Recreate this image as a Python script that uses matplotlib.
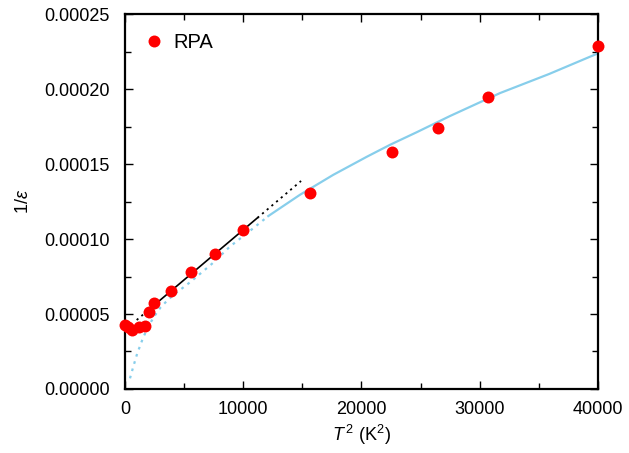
import numpy as np
import matplotlib
matplotlib.use('Agg')
import matplotlib.pyplot as plt
from matplotlib.ticker import MultipleLocator, FormatStrFormatter

plt.rcParams['font.family'] = ['Liberation Sans', 'DejaVu Sans']
plt.rcParams['mathtext.fontset'] = 'custom'
plt.rcParams['mathtext.it'] = 'Liberation Sans:italic'
plt.rcParams['mathtext.rm'] = 'Liberation Sans'

# RPA points, T^2 (K^2) vs 1/eps
t2_rpa = [0, 250, 590, 1160, 1660, 2000, 2480, 3920, 5610, 7640, 10000,
          15645, 22555, 26445, 30673, 40000]
inv_eps_rpa = [4.3e-5, 4.15e-5, 3.95e-5, 4.1e-5, 4.2e-5, 5.15e-5, 5.71e-5,
               6.53e-5, 7.82e-5, 9.0e-5, 1.06e-4,
               1.305e-4, 1.582e-4, 1.738e-4, 1.949e-4, 2.287e-4]

# linear fit (black)
lin_dot1_x = [990, 2200]
lin_dot1_y = [4.6e-5, 5.41e-5]
lin_solid_x = [2200, 11200]
lin_solid_y = [5.41e-5, 1.141e-4]
lin_dot2_x = [11200, 14890]
lin_dot2_y = [1.141e-4, 1.387e-4]

# sqrt-like fit (blue)
sq_dot_x = [423, 702, 1040, 1463, 1886, 2453, 3019, 3578, 4144, 4846, 5556,
            7358, 8880, 10500, 12120]
sq_dot_y = [7.1e-6, 1.49e-5, 2.38e-5, 3.27e-5, 4.05e-5, 4.82e-5, 5.45e-5,
            5.9e-5, 6.3e-5, 6.72e-5, 7.15e-5, 8.35e-5, 9.5e-5, 1.05e-4, 1.153e-4]
sq_solid_x = [12120, 14800, 17616, 20440, 22411, 24670, 27484, 31714, 35858, 40000]
sq_solid_y = [1.153e-4, 1.295e-4, 1.428e-4, 1.548e-4, 1.628e-4, 1.712e-4,
              1.82e-4, 1.973e-4, 2.10e-4, 2.238e-4]

fig = plt.figure(figsize=(6.29, 4.53), dpi=100)
ax = fig.add_axes([0.1987, 0.1413, 0.752, 0.8277])

blue = '#87ceeb'
dots = (0, (1.2, 2.2))
ax.plot(sq_dot_x, sq_dot_y, color=blue, lw=1.6, linestyle=dots)
ax.plot(sq_solid_x, sq_solid_y, color=blue, lw=1.6)
ax.plot(lin_dot1_x, lin_dot1_y, color='black', lw=1.3, linestyle=dots)
ax.plot(lin_solid_x, lin_solid_y, color='black', lw=1.2)
ax.plot(lin_dot2_x, lin_dot2_y, color='black', lw=1.3, linestyle=dots)
ax.plot(t2_rpa, inv_eps_rpa, 'o', color='red', ms=8.6, mec='none',
        label='RPA', clip_on=False, zorder=5)

ax.set_xlim(0, 40000)
ax.set_ylim(0, 0.00025)
ax.xaxis.set_major_locator(MultipleLocator(10000))
ax.xaxis.set_minor_locator(MultipleLocator(5000))
ax.yaxis.set_major_locator(MultipleLocator(0.00005))
ax.yaxis.set_minor_locator(MultipleLocator(0.000025))
ax.yaxis.set_major_formatter(FormatStrFormatter('%.5f'))
ax.tick_params(which='both', direction='in', top=True, right=True,
               labelsize=13, width=1)
ax.tick_params(which='major', length=6)
ax.tick_params(axis='y', which='major', pad=11)
ax.tick_params(axis='x', which='major', pad=9)
ax.tick_params(which='minor', length=4)
for s in ax.spines.values():
    s.set_linewidth(1.6)

ax.set_xlabel(r'$T^{\,2}$ (K$^2$)', fontsize=13, labelpad=3)
ax.set_ylabel(r'1/$\varepsilon$', fontsize=13, labelpad=9)

ax.legend(loc='upper left', frameon=False, fontsize=14.5, handletextpad=0.45,
          borderaxespad=0.55, handlelength=1.0)

fig.savefig('out.png', dpi=100)
